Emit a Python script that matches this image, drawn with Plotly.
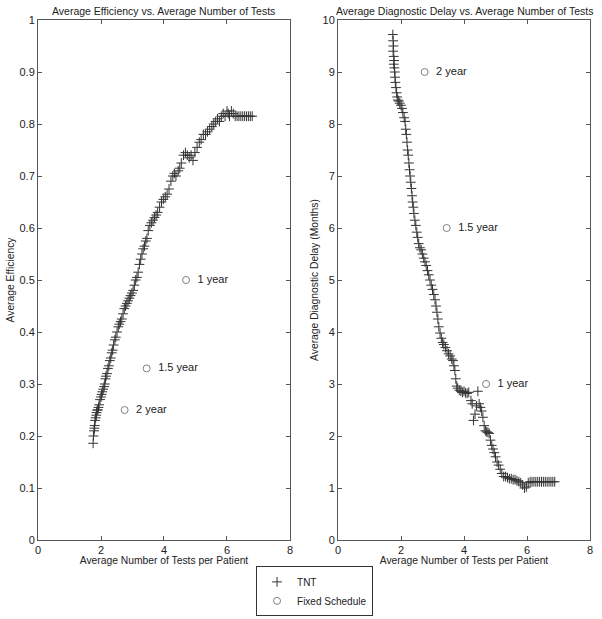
import plotly.graph_objects as go

# TNT points, left panel (efficiency vs tests)
eff_tests = [1.75, 1.76, 1.78, 1.79, 1.80, 1.81, 1.83, 1.85, 1.86, 1.88,
             1.90, 1.92, 1.94, 1.97, 2.00, 2.02, 2.04, 2.07, 2.10, 2.12,
             2.14, 2.16, 2.19, 2.22, 2.25, 2.28, 2.31, 2.34, 2.37, 2.40,
             2.44, 2.47, 2.51, 2.55, 2.58, 2.62, 2.66, 2.70, 2.74, 2.78,
             2.82, 2.86, 2.90, 2.94, 2.98, 3.02, 3.06, 3.10, 3.14, 3.18,
             3.22, 3.26, 3.30, 3.34, 3.38, 3.42, 3.46, 3.50, 3.55, 3.60,
             3.65, 3.70, 3.75, 3.80, 3.86, 3.92, 3.98, 4.04, 4.10, 4.16,
             4.22, 4.28, 4.33, 4.38, 4.45, 4.50, 4.55, 4.62, 4.68, 4.74,
             4.80, 4.86, 4.92, 4.98, 5.05, 5.12, 5.18, 5.25, 5.32, 5.38,
             5.45, 5.52, 5.58, 5.64, 5.70, 5.76, 5.82, 5.88, 5.94, 6.00,
             6.04, 6.08, 6.14, 6.20, 6.26, 6.32, 6.38, 6.44, 6.50, 6.56,
             6.62, 6.68, 6.74, 6.80]
eff_values = [0.186, 0.200, 0.210, 0.215, 0.220, 0.230, 0.235, 0.240, 0.245, 0.250,
              0.250, 0.255, 0.260, 0.270, 0.275, 0.280, 0.285, 0.290, 0.295, 0.300,
              0.310, 0.315, 0.320, 0.330, 0.335, 0.345, 0.350, 0.360, 0.365, 0.375,
              0.385, 0.390, 0.400, 0.410, 0.415, 0.420, 0.425, 0.435, 0.445, 0.450,
              0.455, 0.460, 0.465, 0.470, 0.475, 0.480, 0.490, 0.500, 0.505, 0.515,
              0.530, 0.540, 0.550, 0.560, 0.565, 0.575, 0.580, 0.595, 0.605, 0.610,
              0.615, 0.620, 0.625, 0.630, 0.640, 0.650, 0.655, 0.660, 0.665, 0.675,
              0.690, 0.700, 0.705, 0.700, 0.710, 0.715, 0.725, 0.740, 0.745, 0.740,
              0.735, 0.740, 0.730, 0.745, 0.755, 0.765, 0.770, 0.780, 0.780, 0.785,
              0.790, 0.795, 0.800, 0.805, 0.810, 0.805, 0.815, 0.820, 0.815, 0.825,
              0.820, 0.815, 0.825, 0.820, 0.815, 0.815, 0.815, 0.815, 0.815, 0.815,
              0.815, 0.815, 0.815, 0.815]

# TNT points, right panel (delay vs tests)
delay_tests = [1.74, 1.75, 1.76, 1.75, 1.77, 1.78, 1.77, 1.79, 1.80, 1.81,
               1.82, 1.84, 1.86, 1.88, 1.90, 1.93, 1.96, 2.00, 2.03, 2.06,
               2.10, 2.13, 2.15, 2.17, 2.19, 2.21, 2.23, 2.25, 2.27, 2.29,
               2.31, 2.33, 2.35, 2.37, 2.39, 2.41, 2.44, 2.47, 2.50, 2.53,
               2.56, 2.60, 2.64, 2.68, 2.72, 2.76, 2.80, 2.84, 2.88, 2.92,
               2.96, 3.00, 3.04, 3.08, 3.11, 3.14, 3.17, 3.20, 3.24, 3.28,
               3.32, 3.36, 3.41, 3.46, 3.51, 3.56, 3.61, 3.65, 3.68, 3.71,
               3.74, 3.77, 3.80, 3.85, 3.90, 3.95, 4.00, 4.05, 4.10, 4.15,
               4.22, 4.26, 4.30, 4.35, 4.40, 4.44, 4.48, 4.52, 4.56, 4.60,
               4.64, 4.68, 4.72, 4.76, 4.80, 4.84, 4.88, 4.92, 4.96, 5.00,
               5.05, 5.10, 5.15, 5.20, 5.26, 5.32, 5.38, 5.44, 5.50, 5.56,
               5.62, 5.68, 5.74, 5.80, 5.86, 5.92, 5.98, 6.04, 6.10, 6.16,
               6.22, 6.28, 6.34, 6.40, 6.46, 6.52, 6.58, 6.64, 6.70, 6.76,
               6.82, 6.88]
delay_values = [9.72, 9.60, 9.50, 9.40, 9.30, 9.22, 9.15, 9.08, 9.00, 8.90,
                8.80, 8.70, 8.60, 8.52, 8.46, 8.44, 8.40, 8.36, 8.30, 8.22,
                8.12, 8.05, 7.90, 7.80, 7.65, 7.50, 7.40, 7.25, 7.12, 7.00,
                6.88, 6.76, 6.62, 6.50, 6.40, 6.28, 6.15, 6.05, 5.92, 5.82,
                5.70, 5.62, 5.58, 5.50, 5.42, 5.35, 5.28, 5.18, 5.10, 5.00,
                4.90, 4.82, 4.72, 4.62, 4.50, 4.38, 4.25, 4.10, 3.98, 3.88,
                3.80, 3.76, 3.70, 3.64, 3.58, 3.54, 3.48, 3.45, 3.35, 3.26,
                3.10, 2.96, 2.92, 2.88, 2.86, 2.84, 2.86, 2.83, 2.82, 2.84,
                2.68, 2.62, 2.30, 2.42, 2.58, 2.86, 2.62, 2.55, 2.48, 2.36,
                2.20, 2.10, 2.08, 2.07, 2.05, 1.92, 1.82, 1.75, 1.68, 1.60,
                1.50, 1.44, 1.36, 1.28, 1.22, 1.22, 1.20, 1.18, 1.18, 1.16,
                1.16, 1.14, 1.12, 1.10, 1.06, 1.00, 1.02, 1.10, 1.12, 1.12,
                1.12, 1.12, 1.12, 1.12, 1.12, 1.12, 1.12, 1.12, 1.12, 1.12,
                1.12, 1.12]

# Fixed schedule points
fixed_labels = ['1 year', '1.5 year', '2 year']
fixed_tests = [4.7, 3.45, 2.75]
fixed_eff = [0.50, 0.33, 0.25]
fixed_delay = [3.0, 6.0, 9.0]

ink = '#222222'
font_name = 'Liberation Sans, Arial, sans-serif'

fig = go.Figure()

tnt_marker = dict(symbol='cross-thin', size=7, line=dict(width=1, color='#333333'), color='#333333')
fixed_marker = dict(symbol='circle-open', size=7, line=dict(width=1, color='#808080'), color='#808080')

fig.add_trace(go.Scatter(x=eff_tests, y=eff_values, mode='markers', name='TNT',
                         marker=tnt_marker, xaxis='x', yaxis='y'))
fig.add_trace(go.Scatter(x=fixed_tests, y=fixed_eff, mode='markers+text', name='Fixed Schedule',
                         text=['  ' + t for t in fixed_labels], textposition='middle right',
                         textfont=dict(size=11, color=ink),
                         marker=fixed_marker, xaxis='x', yaxis='y'))
fig.add_trace(go.Scatter(x=delay_tests, y=delay_values, mode='markers', name='TNT',
                         marker=tnt_marker, showlegend=False, xaxis='x2', yaxis='y2'))
fig.add_trace(go.Scatter(x=fixed_tests, y=fixed_delay, mode='markers+text', name='Fixed Schedule',
                         text=['  ' + t for t in fixed_labels], textposition='middle right',
                         textfont=dict(size=11, color=ink),
                         marker=fixed_marker, showlegend=False, xaxis='x2', yaxis='y2'))

axis_style = dict(showline=True, linecolor='#555555', linewidth=1, mirror='ticks',
                  ticks='inside', ticklen=4, tickcolor='#555555', showgrid=False,
                  zeroline=False, automargin=False, tickfont=dict(size=11, color=ink))

fig.update_layout(
    width=602, height=619,
    plot_bgcolor='white', paper_bgcolor='white',
    font=dict(family=font_name, size=10, color=ink),
    margin=dict(l=38, r=12, t=20, b=79),
    xaxis=dict(domain=[0, 0.4565], range=[0, 8], dtick=2,
               title=dict(text='Average Number of Tests per Patient', font=dict(size=10.3), standoff=2),
               **axis_style),
    yaxis=dict(range=[0, 1], dtick=0.1,
               title=dict(text='Average Efficiency', font=dict(size=10.3), standoff=2),
               **axis_style),
    xaxis2=dict(domain=[0.5435, 1], range=[0, 8], dtick=2, anchor='y2',
                title=dict(text='Average Number of Tests per Patient', font=dict(size=10.3), standoff=2),
                **axis_style),
    yaxis2=dict(range=[0, 10], dtick=1, anchor='x2',
                title=dict(text='Average Diagnostic Delay (Months)', font=dict(size=10.3), standoff=1),
                **axis_style),
    legend=dict(x=0.395, y=0.085, xanchor='left', yanchor='top', yref='container',
                bordercolor='#333333', borderwidth=1, font=dict(size=10, color=ink),
                tracegroupgap=0, itemwidth=30),
    annotations=[
        dict(text='Average Efficiency vs. Average Number of Tests', x=0.228, y=1.0,
             xref='paper', yref='paper', xanchor='center', yanchor='bottom',
             yshift=1, showarrow=False, font=dict(size=10.5, color=ink)),
        dict(text='Average Diagnostic Delay vs. Average Number of Tests', x=0.772, y=1.0,
             xref='paper', yref='paper', xanchor='center', yanchor='bottom',
             yshift=1, showarrow=False, font=dict(size=10.5, color=ink)),
    ],
)

# drop the default page margin so the figure sits at the window's corner
fig.write_html('out.html', config={'displayModeBar': False},
               post_script="document.body.style.margin='0';")
